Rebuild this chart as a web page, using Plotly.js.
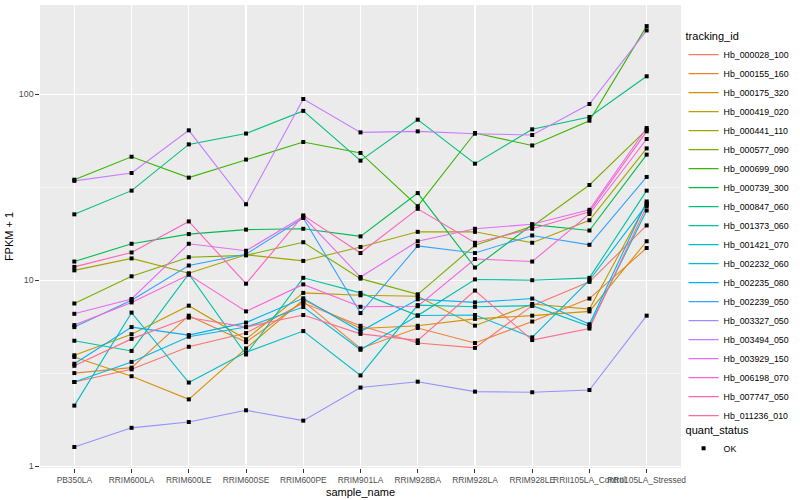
<!DOCTYPE html>
<html>
<head>
<meta charset="utf-8">
<script src="https://cdn.plot.ly/plotly-3.0.1.min.js"></script>
<style>html,body{margin:0;padding:0;background:#fff;} #chart{width:800px;height:500px;}</style>
</head>
<body>
<div id="chart"></div>
<script>
// ---- data ----
const samples = ['PB350LA','RRIM600LA','RRIM600LE','RRIM600SE','RRIM600PE','RRIM901LA','RRIM928BA','RRIM928LA','RRIM928LE','RRII105LA_Control','RRII105LA_Stressed'];

const trackingIds = ['Hb_000028_100','Hb_000155_160','Hb_000175_320','Hb_000419_020','Hb_000441_110','Hb_000577_090','Hb_000699_090','Hb_000739_300','Hb_000847_060','Hb_001373_060','Hb_001421_070','Hb_002232_060','Hb_002235_080','Hb_002239_050','Hb_003327_050','Hb_003494_050','Hb_003929_150','Hb_006198_070','Hb_007747_050','Hb_011236_010'];

const seriesColors = ['#F8766D','#EA8331','#D89000','#C09B00','#A3A500','#7CAE00','#39B600','#00BB4E','#00BF7D','#00C1A3','#00BFC4','#00BAE0','#00B0F6','#35A2FF','#9590FF','#C77CFF','#E76BF3','#FA62DB','#FF62BC','#FF6C91'];

// FPKM + 1 per sample, one array per tracking_id
const hb_000028_100 = [2.84, 3.32, 4.39, 5.2, 7.54, 5.69, 4.6, 4.33, 7.3, 9.8, 19.7];
const hb_000155_160 = [3.17, 3.39, 6.45, 4.65, 7.7, 4.3, 5.54, 4.6, 6.0, 7.97, 14.9];
const hb_000175_320 = [3.87, 3.05, 2.29, 4.3, 7.85, 5.5, 5.69, 6.2, 6.45, 6.8, 16.2];
const hb_000419_020 = [3.95, 5.13, 7.3, 4.82, 8.55, 8.3, 8.2, 5.7, 7.45, 7.0, 26.0];
const hb_000441_110 = [11.3, 13.1, 10.9, 13.7, 12.7, 15.1, 18.2, 18.2, 15.9, 21.0, 51.1];
const hb_000577_090 = [7.5, 10.5, 13.3, 13.6, 16.0, 10.2, 8.4, 15.4, 19.5, 32.5, 64.4];
const hb_000699_090 = [34.7, 46.1, 35.6, 44.5, 55.3, 48.3, 25.0, 61.8, 53.0, 72.0, 232];
const hb_000739_300 = [12.6, 15.7, 17.7, 18.7, 18.9, 17.2, 29.4, 11.7, 19.9, 18.5, 47.3];
const hb_000847_060 = [22.6, 30.3, 53.7, 61.4, 81.3, 43.9, 72.9, 42.3, 64.7, 75.4, 124.7];
const hb_001373_060 = [4.73, 4.17, 10.8, 3.99, 10.3, 8.55, 6.46, 10.1, 10.0, 10.3, 30.3];
const hb_001421_070 = [2.12, 6.7, 2.82, 4.1, 5.33, 3.08, 7.35, 7.2, 7.3, 5.65, 23.7];
const hb_002232_060 = [2.84, 3.64, 4.97, 5.6, 7.18, 4.23, 6.46, 6.5, 4.93, 10.0, 25.5];
const hb_002235_080 = [3.56, 5.6, 5.07, 5.92, 8.0, 5.3, 7.9, 7.6, 7.97, 5.8, 26.5];
const hb_002239_050 = [5.6, 7.8, 12.0, 13.8, 21.6, 6.66, 15.3, 14.0, 17.4, 15.5, 35.9];
const hb_003327_050 = [1.27, 1.61, 1.73, 2.0, 1.76, 2.65, 2.85, 2.52, 2.50, 2.57, 6.45];
const hb_003494_050 = [34.2, 37.7, 63.9, 25.6, 94.2, 62.3, 63.1, 61.3, 60.3, 88.5, 220];
const hb_003929_150 = [6.6, 7.93, 15.7, 14.4, 22.0, 10.4, 16.2, 18.9, 20.0, 23.9, 65.8];
const hb_006198_070 = [5.74, 7.6, 10.7, 6.8, 9.5, 7.2, 7.25, 13.0, 12.6, 22.7, 57.4];
const hb_007747_050 = [11.8, 14.1, 20.7, 9.58, 22.3, 14.0, 24.2, 15.9, 18.9, 23.3, 63.1];
const hb_011236_010 = [3.47, 4.84, 6.3, 5.6, 6.5, 5.15, 4.75, 8.8, 4.77, 5.5, 25.0];

const seriesValues = [hb_000028_100, hb_000155_160, hb_000175_320, hb_000419_020, hb_000441_110, hb_000577_090, hb_000699_090, hb_000739_300, hb_000847_060, hb_001373_060, hb_001421_070, hb_002232_060, hb_002235_080, hb_002239_050, hb_003327_050, hb_003494_050, hb_003929_150, hb_006198_070, hb_007747_050, hb_011236_010];

const quantStatus = ['OK'];

// ---- traces ----
const FONT = 'Liberation Sans, Arial, Helvetica, sans-serif';
const traces = trackingIds.map((id, i) => ({
  type: 'scatter', mode: 'lines', name: id,
  x: samples, y: seriesValues[i],
  line: {color: seriesColors[i], width: 1.1},
  legend: 'legend', hoverinfo: 'name+y'
}));

const ptsX = [], ptsY = [];
seriesValues.forEach(v => v.forEach((val, j) => { ptsX.push(samples[j]); ptsY.push(val); }));
traces.push({
  type: 'scatter', mode: 'markers', name: quantStatus[0],
  x: ptsX, y: ptsY,
  marker: {symbol: 'square', size: 4, color: '#000000'},
  legend: 'legend2'
});

const layout = {
  width: 800, height: 500,
  margin: {l: 40, r: 117, t: 5, b: 32, pad: 0},
  paper_bgcolor: '#FFFFFF', plot_bgcolor: '#EBEBEB',
  font: {family: FONT, size: 9, color: '#4D4D4D'},
  showlegend: true,
  xaxis: {
    type: 'category', categoryorder: 'array', categoryarray: samples,
    range: [-0.6, samples.length - 0.4],
    showgrid: true, gridcolor: '#FFFFFF', gridwidth: 1.1,
    zeroline: false, showline: false,
    ticks: 'outside', ticklen: 3.7, tickwidth: 1.07, tickcolor: '#333333',
    tickangle: 0, tickfont: {family: FONT, size: 8.4, color: '#4D4D4D'},
    title: {text: 'sample_name', font: {family: FONT, size: 11, color: '#000000'}, standoff: 4},
    fixedrange: true
  },
  yaxis: {
    type: 'log', range: [-0.009, 2.479],
    tickmode: 'array', tickvals: [1, 10, 100], ticktext: ['1', '10', '100'],
    showgrid: true, gridcolor: '#FFFFFF', gridwidth: 1.1,
    minor: {tickmode: 'array', tickvals: [3.1623, 31.623], showgrid: true, gridcolor: '#FFFFFF', gridwidth: 0.55, ticks: ''},
    zeroline: false, showline: false,
    ticks: 'outside', ticklen: 3.7, tickwidth: 1.07, tickcolor: '#333333',
    tickfont: {family: FONT, size: 8.8, color: '#4D4D4D'},
    title: {text: 'FPKM + 1', font: {family: FONT, size: 11, color: '#000000'}, standoff: 3},
    fixedrange: true
  },
  legend: {
    x: 1.004, xanchor: 'left', y: 0.955, yanchor: 'top',
    bgcolor: 'rgba(0,0,0,0)', borderwidth: 0,
    font: {family: FONT, size: 8.8, color: '#000000'},
    title: {text: 'tracking_id', font: {family: FONT, size: 11, color: '#000000'}},
    traceorder: 'normal', itemclick: false, itemdoubleclick: false
  },
  legend2: {
    x: 1.004, xanchor: 'left', y: 0.105, yanchor: 'top',
    bgcolor: 'rgba(0,0,0,0)', borderwidth: 0,
    font: {family: FONT, size: 8.8, color: '#000000'},
    title: {text: 'quant_status', font: {family: FONT, size: 11, color: '#000000'}},
    itemclick: false, itemdoubleclick: false
  }
};

Plotly.newPlot('chart', traces, layout, {displayModeBar: false, staticPlot: true});
</script>
</body>
</html>
